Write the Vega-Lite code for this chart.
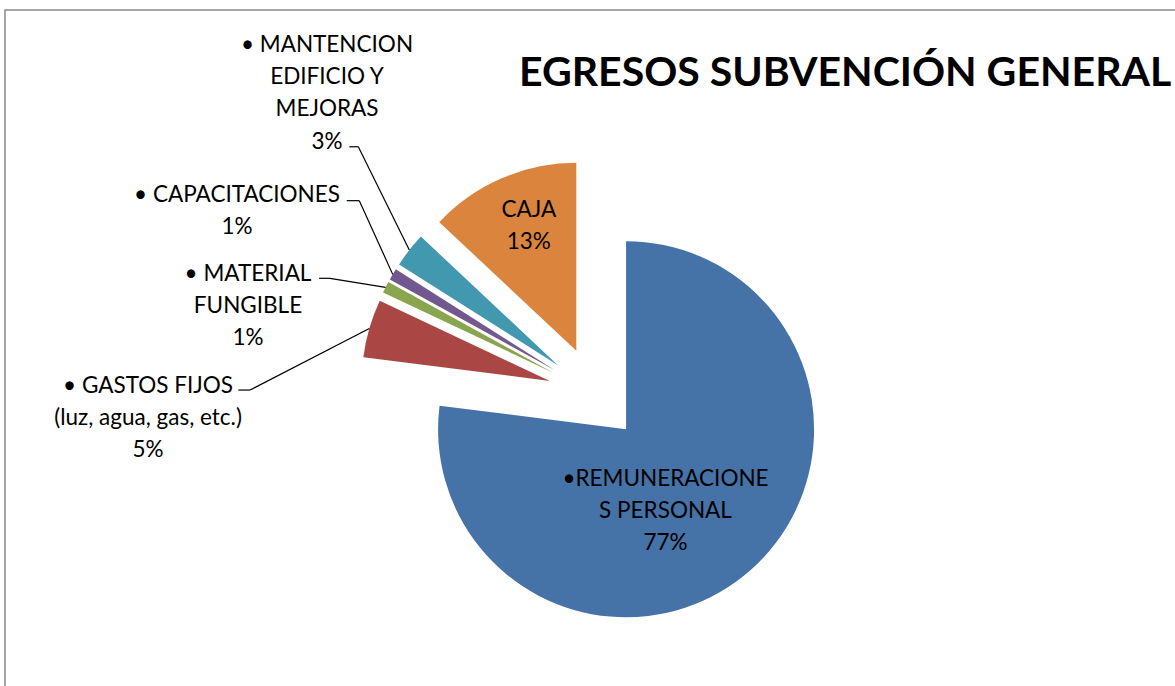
{
  "$schema": "https://vega.github.io/schema/vega-lite/v6.json",
  "width": 1180,
  "height": 768,
  "autosize": "none",
  "padding": {"left": 5, "top": 10, "right": 0, "bottom": 0},
  "background": "white",
  "config": {
    "view": {"stroke": "#8a8a8a", "strokeWidth": 1.5},
    "font": "Lato"
  },
  "title": {
    "text": "EGRESOS SUBVENCIÓN GENERAL",
    "anchor": "start",
    "frame": "group",
    "orient": "top",
    "offset": 0,
    "dx": 514,
    "dy": 117,
    "baseline": "alphabetic",
    "font": "Lato",
    "fontSize": 41,
    "fontWeight": "bold",
    "color": "#000000"
  },
  "data": {
    "values": [
      {"cat": "REMUNERACIONES PERSONAL", "name": "•REMUNERACIONE\nS PERSONAL", "value": 77, "order": 0},
      {"cat": "GASTOS FIJOS", "name": "• GASTOS FIJOS\n(luz, agua, gas, etc.)", "value": 5, "order": 1},
      {"cat": "MATERIAL FUNGIBLE", "name": "• MATERIAL\nFUNGIBLE", "value": 1, "order": 2},
      {"cat": "CAPACITACIONES", "name": "• CAPACITACIONES", "value": 1, "order": 3},
      {"cat": "MANTENCION EDIFICIO Y MEJORAS", "name": "• MANTENCION\nEDIFICIO Y\nMEJORAS", "value": 3, "order": 4},
      {"cat": "CAJA", "name": "CAJA", "value": 13, "order": 5}
    ]
  },
  "transform": [
    {"joinaggregate": [{"op": "sum", "field": "value", "as": "total"}]},
    {"window": [{"op": "sum", "field": "value", "as": "cum"}], "sort": [{"field": "order", "order": "ascending"}], "frame": [null, 0]},
    {"calculate": "2*PI*(datum.cum - datum.value/2)/datum.total", "as": "mid"},
    {"calculate": "sin(datum.mid)", "as": "ux"},
    {"calculate": "-cos(datum.mid)", "as": "uy"},
    {"calculate": "datum.name + '\\n' + format(datum.value/datum.total, '.0%')", "as": "txt"}
  ],
  "layer": [
    {
      "mark": {"type": "arc", "outerRadius": 188, "xOffset": {"expr": "47*datum.ux"}, "yOffset": {"expr": "47*datum.uy"}},
      "encoding": {
        "theta": {"field": "value", "type": "quantitative", "stack": true},
        "order": {"field": "order", "type": "quantitative"},
        "color": {
          "field": "cat",
          "type": "nominal",
          "legend": null,
          "scale": {
            "domain": ["REMUNERACIONES PERSONAL", "GASTOS FIJOS", "MATERIAL FUNGIBLE", "CAPACITACIONES", "MANTENCION EDIFICIO Y MEJORAS", "CAJA"],
            "range": ["#4572A7", "#AA4643", "#89A54E", "#71588F", "#4198AF", "#DB843D"]
          }
        }
      }
    },
    {
      "transform": [
        {"filter": "datum.order >= 1 && datum.order <= 4"},
        {"calculate": "235*datum.ux", "as": "sx"},
        {"calculate": "235*datum.uy", "as": "sy"},
        {"calculate": "datum.sx + [0, -119.3, -55.6, -33.4, -51.0, 0][datum.order]", "as": "ex"},
        {"calculate": "datum.sy + [0, 61.6, -9.0, -73.7, -103.2, 0][datum.order]", "as": "ey"}
      ],
      "mark": {"type": "rule", "color": "#000000", "strokeWidth": 1.2},
      "encoding": {
        "x": {"field": "sx", "type": "quantitative", "scale": {"domain": [-590, 590], "nice": false, "zero": false}, "axis": null},
        "y": {"field": "sy", "type": "quantitative", "scale": {"domain": [-384, 384], "reverse": true, "nice": false, "zero": false}, "axis": null},
        "x2": {"field": "ex"},
        "y2": {"field": "ey"}
      }
    },
    {
      "transform": [
        {"filter": "datum.order >= 1 && datum.order <= 4"},
        {"calculate": "235*datum.ux + [0, -119.3, -55.6, -33.4, -51.0, 0][datum.order]", "as": "ex"},
        {"calculate": "235*datum.uy + [0, 61.6, -9.0, -73.7, -103.2, 0][datum.order]", "as": "ey"},
        {"calculate": "datum.ex + [0, -11.7, -11, -12.6, -9, 0][datum.order]", "as": "hx"}
      ],
      "mark": {"type": "rule", "color": "#000000", "strokeWidth": 1.2},
      "encoding": {
        "x": {"field": "ex", "type": "quantitative", "scale": {"domain": [-590, 590], "nice": false, "zero": false}, "axis": null},
        "y": {"field": "ey", "type": "quantitative", "scale": {"domain": [-384, 384], "reverse": true, "nice": false, "zero": false}, "axis": null},
        "x2": {"field": "hx"}
      }
    },
    {
      "transform": [
        {"calculate": "[47, 235, 235, 235, 235, 47][datum.order]*datum.ux + [39.4, -221.3, -137.6, -155.7, -82.3, -47.5][datum.order]", "as": "tx"},
        {"calculate": "[47, 235, 235, 235, 235, 47][datum.order]*datum.uy + [56.4, 64.3, -6.8, -72.7, -198.2, -134.2][datum.order]", "as": "ty"}
      ],
      "mark": {"type": "text", "align": "center", "baseline": "alphabetic", "lineBreak": "\n", "fontSize": 22.5, "lineHeight": 32.3, "font": "Lato", "color": "#000000"},
      "encoding": {
        "x": {"field": "tx", "type": "quantitative", "scale": {"domain": [-590, 590], "nice": false, "zero": false}, "axis": null},
        "y": {"field": "ty", "type": "quantitative", "scale": {"domain": [-384, 384], "reverse": true, "nice": false, "zero": false}, "axis": null},
        "text": {"field": "txt"}
      }
    }
  ]
}
